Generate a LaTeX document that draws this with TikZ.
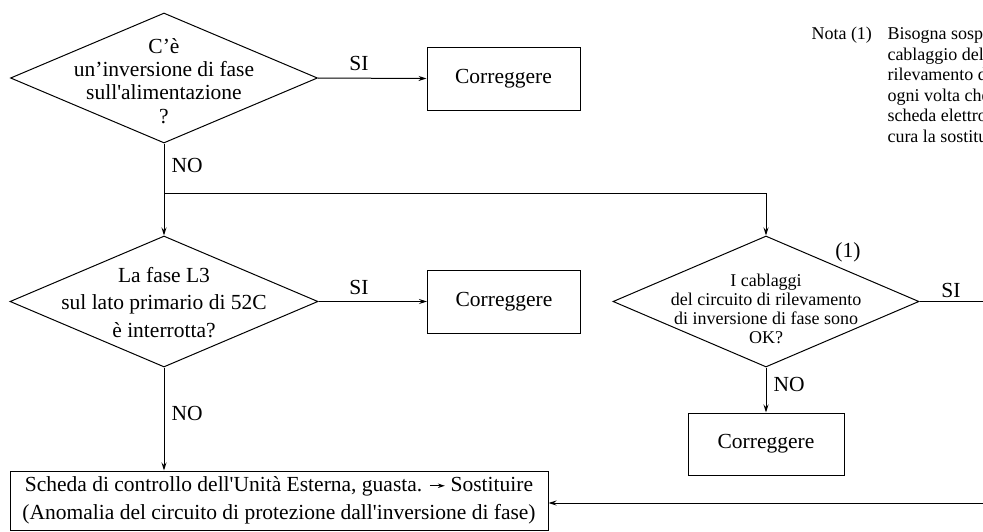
\documentclass[tikz,border=0pt]{standalone}
\usepackage{fontspec}
\setmainfont{Liberation Serif}[Ligatures=TeXOff]
\usetikzlibrary{shapes.geometric,arrows.meta}

% corpi del testo
\newcommand{\fsmain}{\fontsize{21.5}{27.5}\selectfont}
\newcommand{\fsnote}{\fontsize{18}{20.5}\selectfont}
% freccia piena dentro il testo
\newcommand{\txtarrow}{\tikz[baseline=-0.6ex]\draw[line width=0.9pt,-{Stealth[length=7pt,width=4.5pt]}] (0pt,0pt) -- (15pt,0pt);}

\tikzset{
  decision/.style={draw, diamond, inner sep=0pt, line width=1pt},
  fixbox/.style={draw, rectangle, inner sep=0pt, line width=1pt, font=\fsmain},
  qtext/.style={inner sep=0pt, align=center},
  lbl/.style={inner sep=0pt, font=\fsmain},
}

\begin{document}
\begin{tikzpicture}[x=1pt, y=-1pt, >={Stealth[length=8pt,width=5pt]}, line width=1pt]

    \useasboundingbox (0,0) rectangle (983,531);
    \clip (0,0) rectangle (983,531);

    % ==================================================
    % inversione di fase sull'alimentazione
    % ==================================================

    \node[decision, minimum width=307pt, minimum height=130pt] (q1) at (164,78) {};
    \node[qtext, font={\fontsize{21.5}{23.3}\selectfont}] (q1t) at (164,81)
      {C’è\\un’inversione di fase\\sull'alimentazione\\?};

    \node[fixbox, minimum width=153pt, minimum height=63pt] (c1) at (503.5,78.5) {Correggere};

    % SI
    \draw[->] (q1.east) -- (c1.west);
    \node[lbl] (si1) at (359,63) {SI};

    % NO, poi diramazione
    \coordinate (split) at (164,193);
    \node[lbl, anchor=west] (no1) at (171,165) {NO};

    % ==================================================
    % fase L3 interrotta
    % ==================================================

    \node[decision, minimum width=308pt, minimum height=131pt] (q2) at (164,301.5) {};
    \node[qtext, font={\fontsize{21.5}{27.5}\selectfont}] (q2t) at (164,302.5)
      {La fase L3\\sul lato primario di 52C\\è interrotta?};
    \draw[->] (q1.south) -- (q2.north);

    \node[fixbox, minimum width=153pt, minimum height=63pt] (c2) at (504,301.5) {Correggere};
    \draw[->] (q2.east) -- (c2.west);
    \node[lbl] (si2) at (359,287) {SI};

    % ==================================================
    % cablaggi del circuito di rilevamento
    % ==================================================

    \node[decision, minimum width=306pt, minimum height=131pt] (q3) at (766,301.5) {};
    \node[qtext, font={\fontsize{18}{19}\selectfont}] (q3t) at (766,309)
      {I cablaggi\\del circuito di rilevamento\\di inversione di fase sono\\OK?};
    \draw[->] (split) -| (q3.north);
    \node[lbl] (nref) at (848,252) {(1)};

    % SI: prosegue a destra
    \coordinate (siout) at (995,301.5);
    \draw (q3.east) -- (siout);
    \node[lbl] (si3) at (951,290) {SI};

    % NO
    \node[fixbox, minimum width=156pt, minimum height=62pt] (c3) at (766,444) {Correggere};
    \draw[->] (q3.south) -- (c3.north);
    \node[lbl, anchor=west] (no3) at (773,384) {NO};

    % ==================================================
    % scheda di controllo guasta
    % ==================================================

    \node[fixbox, minimum width=538pt, minimum height=59pt, align=center,
          font={\fontsize{21.5}{28}\selectfont}] (pcb) at (279,500.5)
      {Scheda di controllo dell'Unità Esterna, guasta. \txtarrow\ Sostituire\\
       (Anomalia del circuito di protezione dall'inversione di fase)};
    \draw[->] (q2.south) -- (pcb.north -| q2.south);
    \node[lbl, anchor=west] (no2) at (171,413) {NO};

    % ritorno da destra
    \coordinate (retin) at (995,503);
    \draw[->] (retin) -- (retin -| pcb.east);

    % ==================================================
    % nota
    % ==================================================

    \node[inner sep=0pt, anchor=north west, font=\fsnote] (nota) at (811,27) {Nota (1)};
    \node[inner sep=0pt, anchor=north west, align=left, font=\fsnote] (notatxt) at (887,27)
      {Bisogna sospendere\\cablaggio del\\rilevamento dell\\ogni volta che\\scheda elettronica\\cura la sostituzione};

\end{tikzpicture}
\end{document}
